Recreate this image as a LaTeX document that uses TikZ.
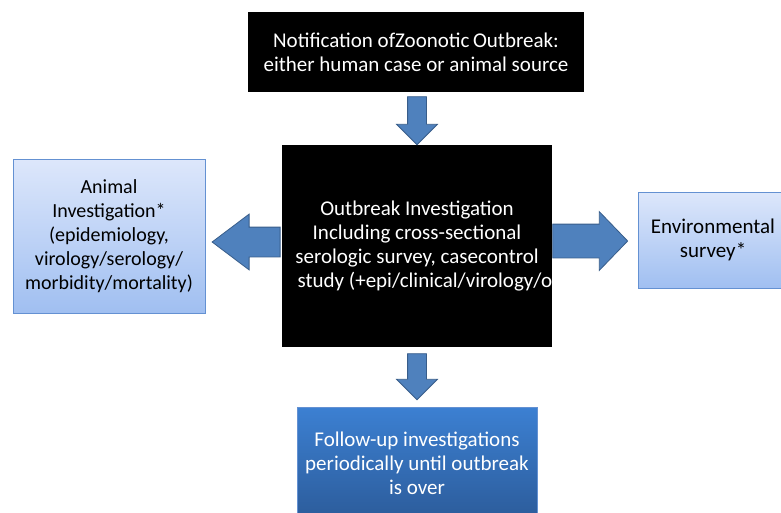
\documentclass[tikz,border=0pt]{standalone}
\usepackage{fontspec}
\setmainfont{Carlito}
\usetikzlibrary{shapes.arrows}

\definecolor{arrowfill}{RGB}{79,129,189}
\definecolor{arrowline}{RGB}{56,93,138}
\definecolor{lighttop}{RGB}{221,231,251}
\definecolor{lightbot}{RGB}{160,191,241}
\definecolor{lightline}{RGB}{100,145,210}
\definecolor{deeptop}{RGB}{60,128,210}
\definecolor{deepbot}{RGB}{44,92,155}

\tikzset{
	boxtext/.style={font=\fontsize{21}{24}\selectfont, align=center, inner sep=0pt},
	darkbox/.style={boxtext, fill=black, text=white},
	lightbox/.style={boxtext, draw=lightline, top color=lighttop, bottom color=lightbot},
	deepbox/.style={boxtext, draw=lightline, top color=deeptop, bottom color=deepbot, text=white},
	blockarrow/.style={single arrow, draw=arrowline, fill=arrowfill, thick, minimum width=0pt},
	downarrow/.style={blockarrow, shape border rotate=270, inner ysep=0pt, inner xsep=9pt, single arrow head extend=11pt}
}

\begin{document}
\begin{tikzpicture}[x=1pt,y=-1pt]
	%\draw[help lines] (0,0) grid[step=50] (781,512);
	\useasboundingbox (0,0) rectangle (781,512);
	\clip (0,0) rectangle (781,512);
	\node[darkbox, minimum width=336, minimum height=80] (notif) at (416,52) {Notification ofZoonotic\,Outbreak:\\either human case or animal source};
	\node[darkbox, minimum width=270, minimum height=202] (inv) at (417,246) {Outbreak Investigation\\Including cross-sectional\\serologic survey, casecontrol\\\hspace*{16pt}study (+epi/clinical/virology/o};
	\node[lightbox, font=\fontsize{20}{24}\selectfont, minimum width=192, minimum height=154] (animal) at (109,236) {Animal\\Investigation*\\(epidemiology,\\virology/serology/\\morbidity/mortality)};
	\node[lightbox, minimum width=150, minimum height=96] (env) at (713,240) {Environmental\\survey*};
	\node[deepbox, minimum width=240, minimum height=112] (follow) at (417,463) {Follow-up investigations\\periodically until outbreak\\is over};
	% block arrows between the boxes
	\node[downarrow, minimum height=48] (down1) at (417,116) {};
	\node[blockarrow, shape border rotate=180, inner xsep=0pt, inner ysep=14.5pt, single arrow head extend=13pt, single arrow tip angle=74, minimum height=68] (left) at (256,242) {};
	\node[blockarrow, inner xsep=0pt, inner ysep=16.5pt, single arrow head extend=12.5pt, single arrow tip angle=92, minimum height=75] (right) at (582,241) {};
	\node[downarrow, minimum height=46] (down2) at (417,372) {};
\end{tikzpicture}
\end{document}
